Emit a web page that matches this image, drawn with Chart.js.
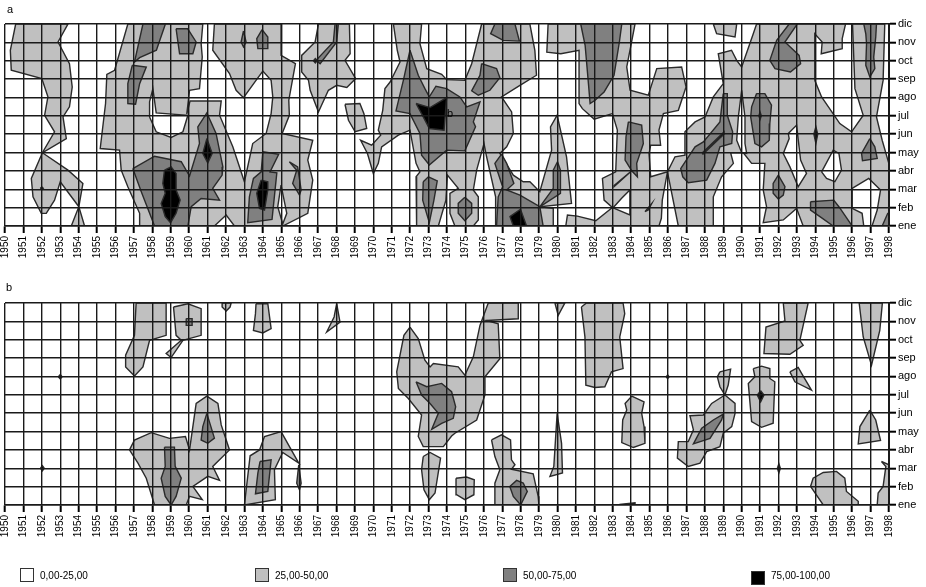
<!DOCTYPE html>
<html>
<head>
<meta charset="utf-8">
<title>Contornos a y b</title>
<script src="https://cdn.jsdelivr.net/npm/chart.js@4"></script>
<style>
    body { margin: 0; background: #fff; font-family: "Liberation Sans", Arial, sans-serif; font-size: 10px; color: #000; overflow: hidden; }
    .panel { position: absolute; left: 0; width: 926px; height: 270px; filter: blur(0.35px); }
    .txt { position: absolute; white-space: nowrap; filter: blur(0.3px); }
    .box { position: absolute; width: 12px; height: 12px; border: 1.5px solid #333; filter: blur(0.3px); }
</style>
</head>
<body>
<div class="panel" style="top:0"><canvas id="chart-a" width="926" height="270"></canvas></div>
<div class="panel" style="top:279px"><canvas id="chart-b" width="926" height="270"></canvas></div>

<div class="txt" style="left:7px;top:3px;font-size:11px">a</div>
<div class="txt" style="left:447px;top:107px;font-size:11px">b</div>
<div class="txt" style="left:6px;top:281px;font-size:11px">b</div>

<div class="box" style="left:20px;top:568px;background:#fff"></div>
<div class="txt" style="left:40px;top:570px">0,00-25,00</div>
<div class="box" style="left:255px;top:568px;background:#c0c0c0"></div>
<div class="txt" style="left:275px;top:570px">25,00-50,00</div>
<div class="box" style="left:503px;top:568px;background:#808080"></div>
<div class="txt" style="left:523px;top:570px">50,00-75,00</div>
<div class="box" style="left:751px;top:571px;background:#000"></div>
<div class="txt" style="left:771px;top:570px">75,00-100,00</div>

<script>
// Axis labels
const firstYear = 1950;
const lastYear = 1998;
const monthLabels = ["ene", "feb", "mar", "abr", "may", "jun", "jul", "ago", "sep", "oct", "nov", "dic"];

// Contours are lists of [year, month] pairs, month 0 = ene ... 11 = dic
// Panel a, 25-50 band
const lightA = [
    [[1950.58,11],[1950.29,9.57],[1950.34,8.48],[1952,8.03],[1952.33,7.03],[1952.15,6.03],[1952.69,5.13],[1952.03,3.99],[1953.33,4.76],[1953.15,5.94],[1953.5,6.49],[1953.65,7.57],[1953.5,8.84],[1952.88,10.02],[1953.42,11]],
    [[1952.03,3.99],[1951.43,2.59],[1951.52,1.59],[1951.97,0.69],[1952.24,0.69],[1952.69,1.41],[1953,2.41],[1954.01,1.05],[1953.6,0],[1954.32,0],[1954.01,1.05],[1954.23,2.32],[1953.42,3.04]],
    [[1956.67,11],[1960.74,11],[1960.65,9.93],[1960.71,9.2],[1960.56,7.48],[1960.02,7.39],[1959.87,6.09],[1960.05,6.81],[1961.74,6.81],[1961.65,6.03],[1962.37,4.31],[1963,2.41],[1963.45,4.49],[1964.18,5.04],[1964.45,6.12],[1964.54,7.03],[1964.45,7.93],[1964,8.44],[1963.63,7.93],[1962.95,6.99],[1962.55,7.39],[1962.19,8.3],[1961.28,9.57],[1961.37,11],[1964.99,11],[1964.99,9.29],[1965.77,8.84],[1965.41,6.85],[1965.44,6.03],[1965.05,5.04],[1966.71,4.67],[1966.44,3.59],[1966.71,2.5],[1966.44,0.69],[1965.08,0],[1962.46,0],[1962.01,0.6],[1961.37,0],[1957.31,0],[1957.31,0.69],[1956.67,2.14],[1956.31,3.04],[1956.22,4.13],[1955.17,4.22],[1955.46,6.67],[1955.53,8.26],[1955.95,8.48]],
    [[1967.02,11],[1966.84,10.02],[1966.11,9.29],[1966.11,8.39],[1966.48,7.93],[1966.57,7.39],[1967.02,6.21],[1967.56,7.39],[1968.01,7.66],[1968.56,7.54],[1969.04,8.03],[1968.46,9.02],[1968.74,9.38],[1968.7,11]],
    [[1968.46,6.63],[1969.27,6.67],[1969.49,6.12],[1969.64,5.31],[1969.01,5.13],[1968.65,5.76]],
    [[1971.09,11],[1971.3,9.57],[1971.45,8.93],[1970.91,7.84],[1970.63,7.48],[1970.51,6.3],[1970.27,5.22],[1970.4,4.95],[1969.91,4.4],[1969.31,4.67],[1969.68,3.95],[1970,2.86],[1970.27,3.41],[1970.45,4.31],[1971.36,4.95],[1971.99,5.22],[1972.32,3.41],[1972.53,2.95],[1972.32,2.68],[1972.35,0],[1973.53,0],[1973.94,1.41],[1974.02,2.77],[1974.61,2.05],[1974.16,1.78],[1974.16,0.69],[1974.43,0],[1975.43,0],[1975.7,0.33],[1975.7,1.59],[1975.43,1.96],[1975.61,3.04],[1976.01,4.49],[1976.15,3.77],[1976.64,1.59],[1976.64,0],[1979.77,0],[1979.77,0.96],[1979.04,1.05],[1980.76,1.23],[1980.49,3.77],[1979.98,6.03],[1979.62,5.4],[1979.68,4.13],[1979.04,1.87],[1978.5,2.41],[1978.14,2.41],[1977.6,2.77],[1976.87,3.95],[1977.24,4.31],[1977.6,5.04],[1977.51,6.21],[1976.96,7.03],[1977.96,7.66],[1978.86,8.21],[1978.77,9.57],[1978.5,11],[1975.88,11],[1975.34,8.84],[1974.97,7.93],[1973.98,7.97],[1973.71,8.26],[1972.9,8.57],[1972.53,9.93],[1972.62,11]],
    [[1979.49,11],[1979.42,9.47],[1980.18,9.38],[1981.17,9.57],[1981.17,6.67],[1981.35,6.39],[1981.99,5.82],[1982.98,6.12],[1983.25,5.22],[1983.16,2.95],[1982.44,2.59],[1982.53,1.41],[1982.98,1.01],[1982.08,0.29],[1981.08,0.54],[1980.54,0.6],[1980.45,0],[1985.51,0],[1985.64,0.42],[1985.69,1.41],[1985.97,2.95],[1985.06,2.68],[1984.97,3.95],[1985.06,4.4],[1985.6,4.4],[1985.51,5.22],[1985.75,6.12],[1986.56,6.3],[1986.98,7.57],[1986.74,8.66],[1985.39,8.57],[1984.93,7.12],[1983.94,7.39],[1983.76,8.66],[1984.21,11]],
    [[1985.97,2.95],[1986.38,3.77],[1986.92,3.86],[1986.92,5.13],[1987.47,5.67],[1988.01,5.94],[1988.46,7.03],[1989,7.75],[1988.73,9.38],[1989.45,9.57],[1989.73,9.02],[1990,8.66],[1990.63,10.47],[1990.81,11],[1997.77,11],[1997.68,7.93],[1997.32,5.94],[1997.63,4.67],[1997.99,3.41],[1998,0],[1993.34,0],[1992.98,0.96],[1992.26,0.33],[1991.17,0.18],[1991.35,1.05],[1991.17,1.96],[1991.26,3.41],[1990.54,3.41],[1990.09,3.99],[1989.4,3.99],[1989.55,3.41],[1988.91,2.68],[1988.46,1.59],[1988.46,0],[1986.56,0]],
    [[1988.46,11],[1988.64,10.47],[1989.64,10.29],[1989.73,11]]
];

// Panel a, holes below 25
const whiteA = [
    [[1957.85,5.94],[1958.21,5.13],[1959.02,4.82],[1959.66,5.13],[1959.93,6.03],[1958.21,6.16],[1958.03,7.48],[1957.85,6.76]],
    [[1964.99,2.23],[1964.81,1.05],[1965.08,0.11],[1965.3,0.69],[1965.08,1.78]],
    [[1983.02,0.99],[1983.93,0.6],[1983.93,1.96],[1983.47,1.5]],
    [[1993.97,7.93],[1993.97,10.47],[1994.37,10.02],[1994.32,9.38],[1995.46,9.66],[1995.46,10.2],[1995.64,11],[1996.02,11],[1996.15,7.48],[1996.6,6.03],[1995.97,5.13],[1995.33,5.58],[1994.34,7.03]],
    [[1992.53,5.04],[1992.98,5.49],[1993.2,3.59],[1993.52,2.86],[1993.07,2.14],[1992.62,3.22],[1992.26,3.95],[1992.58,4.76]],
    [[1994.34,2.95],[1994.97,4.13],[1995.28,3.95],[1995.42,3.04],[1995.06,2.41],[1994.61,2.59]],
    [[1996,2.05],[1996.9,2.59],[1997.54,1.96],[1997.36,0.87],[1997.08,0],[1996.63,0],[1996.54,0.69],[1996,0.96]],
    [[1990,7.39],[1989.82,5.94],[1989.73,4.67],[1990,3.99],[1990.27,3.95],[1990.18,4.49],[1990.18,5.94]]
];

// Panel a, 50-75 band
const darkA = [
    [[1957.49,11],[1958.71,11],[1958.22,9.57],[1957.31,9.17],[1957.03,8.93]],
    [[1956.91,8.75],[1957.67,8.66],[1957.31,7.75],[1957.09,6.63],[1956.67,6.67],[1956.67,7.75]],
    [[1959.29,10.74],[1959.92,10.74],[1960.38,10.02],[1960.2,9.38],[1959.48,9.38]],
    [[1962.95,10.62],[1963.09,10.02],[1962.95,9.75],[1962.82,10.02]],
    [[1963.96,10.69],[1964.27,10.29],[1964.27,9.66],[1963.73,9.66],[1963.67,10.2]],
    [[1956.94,3.13],[1958.12,3.8],[1959.57,3.5],[1960.02,2.72],[1960.56,4.49],[1960.47,5.4],[1960.96,6.16],[1961.46,5.04],[1961.83,3.22],[1961.79,2.77],[1961.28,2.05],[1961.65,1.41],[1960.65,1.5],[1960.11,1.05],[1959.93,0],[1958.12,0],[1957.4,1.87]],
    [[1964,4.04],[1964.86,3.91],[1964.39,2.95],[1964.76,2.9],[1964.5,0.36],[1963.18,0.18],[1963.27,1.59],[1963.49,2.59],[1963.91,2.95]],
    [[1965.44,3.5],[1965.89,3.22],[1966.08,1.96],[1965.99,1.68],[1965.62,2.32],[1965.84,3.04]],
    [[1967.92,11],[1968.1,11],[1968.01,10.02],[1967.11,8.84],[1966.89,9.02],[1967.83,10.02]],
    [[1971.99,9.57],[1972.44,8.21],[1972.8,7.48],[1973.04,7.03],[1973.4,7.61],[1973.98,7.48],[1974.7,7.03],[1975.07,6.49],[1975.79,6.76],[1975.43,5.67],[1975.55,5.4],[1974.97,4.09],[1973.98,4.13],[1973.04,3.32],[1972.62,3.86],[1972.53,5.04],[1971.99,6.12],[1971.23,6.27],[1971.63,7.93]],
    [[1976.6,11],[1977.69,11],[1977.93,10.07],[1977.05,10.11],[1976.37,10.47]],
    [[1975.88,8.84],[1976.69,8.57],[1976.87,8.08],[1976.33,7.39],[1975.7,7.12],[1975.34,7.36],[1975.79,8.21]],
    [[1972.71,2.41],[1972.99,2.68],[1973.47,2.46],[1973.29,1.41],[1973.04,0.18],[1972.68,1.41]],
    [[1974.97,1.56],[1975.34,1.23],[1975.34,0.69],[1974.97,0.29],[1974.61,0.69],[1974.61,1.23]],
    [[1976.96,3.91],[1977.24,3.41],[1977.63,2.32],[1977.24,1.96],[1977.96,1.68],[1979.04,1.05],[1979.22,0],[1976.69,0],[1976.78,1.59],[1977.02,2.14],[1976.6,3.41]],
    [[1980,3.5],[1980.16,3.04],[1980.16,1.78],[1979.04,1.05],[1979.77,2.05],[1979.77,3.04]],
    [[1981.26,11],[1983.49,11],[1983.36,10.02],[1983.07,8.21],[1982.53,7.3],[1982.04,6.85],[1981.77,6.67],[1981.68,7.75],[1981.5,9.84]],
    [[1983.85,5.67],[1984.57,5.49],[1984.66,4.49],[1984.3,3.41],[1984.34,2.68],[1984.03,3.01],[1983.67,3.59],[1983.72,4.86]],
    [[1984.03,3.01],[1983.07,2.14],[1983.07,2.2]],
    [[1984.75,0.78],[1985.12,1.23],[1984.93,0.87]],
    [[1989,7.21],[1989.22,7.21],[1989.22,6.03],[1989.51,5.13],[1989.46,4.49],[1988.82,4.31],[1988.55,3.41],[1988.1,2.5],[1987.1,2.36],[1986.8,2.68],[1986.69,3.13],[1987.47,4.31],[1987.92,4.58],[1988.82,5.67]],
    [[1990.81,7.21],[1991.26,7.21],[1991.62,6.58],[1991.53,5.58],[1991.5,4.67],[1991.08,4.31],[1990.72,4.49],[1990.49,5.94],[1990.54,6.49]],
    [[1991.99,2.77],[1992.35,2.14],[1992.26,1.68],[1991.99,1.47],[1991.71,1.78],[1991.71,2.32]],
    [[1992.58,11],[1993.02,11],[1992.35,10.02],[1993.12,9.29],[1993.2,8.84],[1992.65,8.39],[1991.81,8.57],[1991.53,9.02],[1991.9,10.11]],
    [[1996.63,11],[1997.32,11],[1997.28,10.29],[1997.17,9.2],[1997.23,8.57],[1996.96,8.12],[1996.74,8.75],[1996.78,9.93],[1996.74,10.47]],
    [[1996.96,4.76],[1997.23,4.31],[1997.36,3.68],[1996.56,3.55],[1996.51,3.95]],
    [[1993.74,1.32],[1995,1.41],[1995.28,1.05],[1996,0],[1994.97,0],[1994.25,0.51],[1993.74,0.87]],
    [[1997.63,0],[1997.93,0.69],[1998,0.69],[1998,0]]
];

// Panel a, 75-100 band
const blackA = [
    [[1958.66,3.04],[1958.57,2.32],[1958.7,1.78],[1958.48,1.23],[1958.7,0.51],[1958.99,0.18],[1959.29,0.69],[1959.51,1.41],[1959.29,1.96],[1959.29,2.86],[1959.02,3.22]],
    [[1960.96,4.76],[1961.25,3.95],[1961.01,3.44],[1960.74,3.95]],
    [[1963.91,2.5],[1964.27,2.41],[1964.27,1.96],[1964.09,0.87],[1963.82,0.96],[1963.67,1.78]],
    [[1951.92,2.05],[1952,2.13],[1952.08,2.05],[1952,1.97]],
    [[1966.75,9],[1966.85,9.12],[1966.95,9],[1966.85,8.88]],
    [[1972.32,6.67],[1973.08,6.45],[1973.98,6.99],[1973.84,5.22],[1973.04,5.31],[1972.71,5.94]],
    [[1977.99,0.91],[1978.32,0],[1977.6,0],[1977.42,0.51]],
    [[1987.88,3.9],[1989.04,5],[1989.04,5.12],[1987.88,4]],
    [[1990.93,6],[1991,6.2],[1991.07,6],[1991,5.8]],
    [[1993.92,5],[1994.03,5.4],[1994.13,5],[1994.03,4.5]]
];

// Panel b, 25-50 band
const lightB = [
    [[1957.12,11],[1958.75,11],[1958.75,9.24],[1957.85,8.97],[1957.49,7.52],[1957.03,7.02],[1956.55,7.52],[1956.55,8.16],[1957.03,9.24]],
    [[1959.15,10.78],[1959.93,10.96],[1960.65,10.69],[1960.65,9.24],[1959.66,8.97],[1959.02,8.03],[1958.75,8.25],[1959.57,8.97],[1959.29,9.24]],
    [[1961.79,11],[1962.28,11],[1962.22,10.78],[1962.01,10.56],[1961.79,10.78]],
    [[1963.63,10.96],[1964.27,10.96],[1964.45,9.6],[1964,9.37],[1963.49,9.51],[1963.6,10.42]],
    [[1956.76,3],[1957.03,3.54],[1957.94,3.94],[1958.93,3.63],[1959.8,3.73],[1960.02,3],[1960.38,5.53],[1960.96,5.93],[1961.56,5.53],[1961.74,4.36],[1962.19,3],[1961.28,2.1],[1961.65,1.34],[1961.01,1.56],[1960.2,1.01],[1960.71,0.29],[1960.02,0.47],[1959.84,0],[1958.12,0],[1957.67,1.46],[1957.22,2.28]],
    [[1963,0],[1963.31,2.68],[1963.82,3],[1964.09,3.73],[1964.99,4],[1965.95,2.28],[1965.08,2.86],[1964.63,1.92],[1964.68,0.29]],
    [[1968.01,10.96],[1968.19,9.96],[1967.47,9.42],[1967.87,10.24]],
    [[1971.99,9.69],[1972.44,9.06],[1972.8,7.88],[1973.08,7.52],[1973.26,7.7],[1974.61,7.52],[1974.97,7.07],[1975.43,8.07],[1975.79,9.78],[1976.24,11],[1977.87,11],[1977.87,10.14],[1976.15,10.05],[1976.78,9.87],[1976.87,7.97],[1976.06,6.98],[1976.06,5.99],[1975.61,4.63],[1974.43,3.91],[1974.25,3.76],[1973.8,3.18],[1972.71,3.18],[1972.44,3.73],[1972.62,4.9],[1971.9,5.8],[1971.36,6.35],[1971.27,7.25],[1971.66,9.24]],
    [[1972.71,2.64],[1973.08,2.86],[1973.65,2.55],[1973.35,0.65],[1973.04,0.29],[1972.75,0.83],[1972.62,1.92]],
    [[1974.49,1.46],[1975.06,1.52],[1975.48,1.37],[1975.46,0.56],[1974.97,0.29],[1974.52,0.56]],
    [[1976.42,3.54],[1976.96,3.82],[1977.45,3.54],[1977.5,2.46],[1977.69,2.19],[1977.5,1.95],[1978.68,1.7],[1978.95,0.47],[1978.99,0],[1976.6,0],[1976.6,1.19],[1976.87,1.92],[1976.6,2.64]],
    [[1979.98,4.99],[1980.22,3.36],[1980.27,1.74],[1979.59,1.56],[1979.8,2.1]],
    [[1979.86,11],[1980.4,11],[1980.04,10.33]],
    [[1981.3,10.78],[1981.57,11],[1983.56,11],[1983.65,10.42],[1983.38,9.15],[1983.56,7.43],[1982.93,7.25],[1982.57,6.44],[1982.03,6.4],[1981.54,6.53],[1981.49,9.15]],
    [[1984.03,5.93],[1984.7,5.62],[1984.57,4.99],[1984.7,4.27],[1984.75,3.36],[1984.12,3.13],[1983.49,3.4],[1983.54,4.63],[1983.76,5.17],[1983.67,5.53]],
    [[1988.82,7.25],[1989.4,7.4],[1989.27,6.53],[1989.09,5.99],[1988.82,6.44],[1988.68,6.98]],
    [[1989.09,5.99],[1989.64,5.53],[1989.64,4.99],[1989.46,4.27],[1989,3.91],[1988.82,3.18],[1988.1,2.91],[1987.74,2.28],[1987.1,2.1],[1986.51,2.55],[1986.56,3.45],[1987.1,3.45],[1987.38,4.09],[1987.19,4.86],[1987.92,4.9],[1988.37,5.53]],
    [[1990.63,7.43],[1991.08,7.56],[1991.53,7.43],[1991.53,6.89],[1991.8,6.71],[1991.71,4.45],[1991.08,4.23],[1990.54,4.54],[1990.36,6.62],[1990.72,6.98]],
    [[1992.26,11],[1993.61,11],[1993.16,8.97],[1993.34,8.7],[1992.62,8.21],[1991.21,8.25],[1991.32,9.69],[1992.35,10.02]],
    [[1992.62,7.25],[1993.07,7.49],[1993.31,7.07],[1993.79,6.26],[1992.89,6.71]],
    [[1996.38,11],[1997.64,11],[1997.5,9.51],[1997.05,7.61],[1996.6,9.15]],
    [[1996.96,5.17],[1997.28,4.63],[1997.54,3.51],[1996.33,3.33],[1996.42,4.27]],
    [[1993.74,1.01],[1993.88,1.46],[1994.43,1.77],[1995.15,1.83],[1995.6,1.46],[1995.69,0.74],[1996.33,0.2],[1996.33,0],[1994.43,0]],
    [[1997.59,2.37],[1998,2.19],[1998,0],[1997.36,0],[1997.41,0.65],[1997.68,1.01],[1997.83,2.1]]
];

// Panel b, 50-75 band
const darkB = [
    [[1959.84,10.15],[1960.16,10.15],[1960.16,9.78],[1959.84,9.78]],
    [[1960.96,4.99],[1961.37,3.64],[1961.01,3.36],[1960.65,3.54],[1960.74,4.27]],
    [[1958.66,3.15],[1959.2,3.15],[1959.24,2.1],[1959.57,1.46],[1959.29,0.47],[1959.02,0],[1958.7,0.47],[1958.48,1.46],[1958.7,2.1]],
    [[1963.85,2.37],[1964.45,2.46],[1964.27,0.74],[1963.6,0.61],[1963.73,1.74]],
    [[1965.95,2.19],[1966.08,1.19],[1965.99,0.83],[1965.84,1.19]],
    [[1972.32,6.71],[1972.9,6.44],[1973.71,6.62],[1974.25,6.17],[1974.47,5.35],[1974.34,4.72],[1973.71,4.45],[1973.17,4.12],[1973.53,4.99],[1973.08,5.53],[1972.62,5.99]],
    [[1977.41,1.01],[1977.78,1.34],[1978.14,1.19],[1978.36,0.74],[1978,0],[1977.6,0.47]],
    [[1989,4.95],[1988.91,4.63],[1988.28,3.63],[1987.38,3.33],[1987.83,4.18],[1988.46,4.63]]
];

// Panel b, small dark spots
const blackB = [
    [[1952.9,6.98],[1953,7.1],[1953.1,6.98],[1953,6.86]],
    [[1951.93,2],[1952.03,2.14],[1952.13,2],[1952.03,1.86]],
    [[1985.9,6.98],[1985.98,7.08],[1986.06,6.98],[1985.98,6.88]],
    [[1991.94,2],[1992.02,2.25],[1992.1,2],[1992.02,1.75]],
    [[1991.03,6.22],[1991.21,5.99],[1991.03,5.62],[1990.85,5.99]],
    [[1983.36,0.03],[1984.21,0.12],[1984.21,0]]
];

// Close a contour and turn it into a filled scatter line
function contourDataset(points, color, order) {
    const closed = points.concat([points[0]]).map(p => ({ x: p[0], y: p[1] }));
    return {
        data: closed,
        showLine: true,
        fill: "shape",
        backgroundColor: color,
        borderColor: "#2a2a2a",
        borderWidth: 1.4,
        pointRadius: 0,
        tension: 0,
        order: order
    };
}

// Stack the bands: light first, then holes, then dark, black on top
function buildDatasets(layers) {
    const datasets = [];
    layers.forEach(layer => {
        layer.shapes.forEach(shape => {
            datasets.push(contourDataset(shape, layer.color, -datasets.length));
        });
    });
    return datasets;
}

function drawPanel(canvasId, layers) {
    new Chart(document.getElementById(canvasId), {
        type: "scatter",
        data: { datasets: buildDatasets(layers) },
        options: {
            responsive: false,
            animation: false,
            events: [],
            layout: { padding: { left: 5, top: 24, right: 0, bottom: 0 } },
            plugins: { legend: { display: false }, tooltip: { enabled: false } },
            scales: {
                x: {
                    type: "linear",
                    min: firstYear,
                    max: lastYear,
                    afterFit: scale => { scale.height = 44; },
                    grid: { color: "#1a1a1a", lineWidth: 1.4, z: 1, tickLength: 7, tickColor: "#000", tickWidth: 2 },
                    border: { color: "#1a1a1a", width: 1.4, z: 1 },
                    ticks: {
                        stepSize: 1,
                        autoSkip: false,
                        maxRotation: 90,
                        minRotation: 90,
                        padding: 3,
                        color: "#000",
                        font: { family: "Liberation Sans", size: 10 },
                        callback: value => String(value)
                    }
                },
                y: {
                    position: "right",
                    min: 0,
                    max: 11,
                    afterFit: scale => { scale.width = 37; },
                    grid: { color: "#1a1a1a", lineWidth: 1.4, z: 1, tickLength: 7, tickColor: "#000", tickWidth: 2 },
                    border: { color: "#1a1a1a", width: 2, z: 1 },
                    ticks: {
                        stepSize: 1,
                        autoSkip: false,
                        padding: 2,
                        color: "#000",
                        font: { family: "Liberation Sans", size: 11 },
                        callback: value => monthLabels[value]
                    }
                }
            }
        }
    });
}

drawPanel("chart-a", [
    { shapes: lightA, color: "#c0c0c0" },
    { shapes: whiteA, color: "#ffffff" },
    { shapes: darkA, color: "#808080" },
    { shapes: blackA, color: "#000000" }
]);

drawPanel("chart-b", [
    { shapes: lightB, color: "#c0c0c0" },
    { shapes: darkB, color: "#808080" },
    { shapes: blackB, color: "#000000" }
]);
</script>
</body>
</html>
